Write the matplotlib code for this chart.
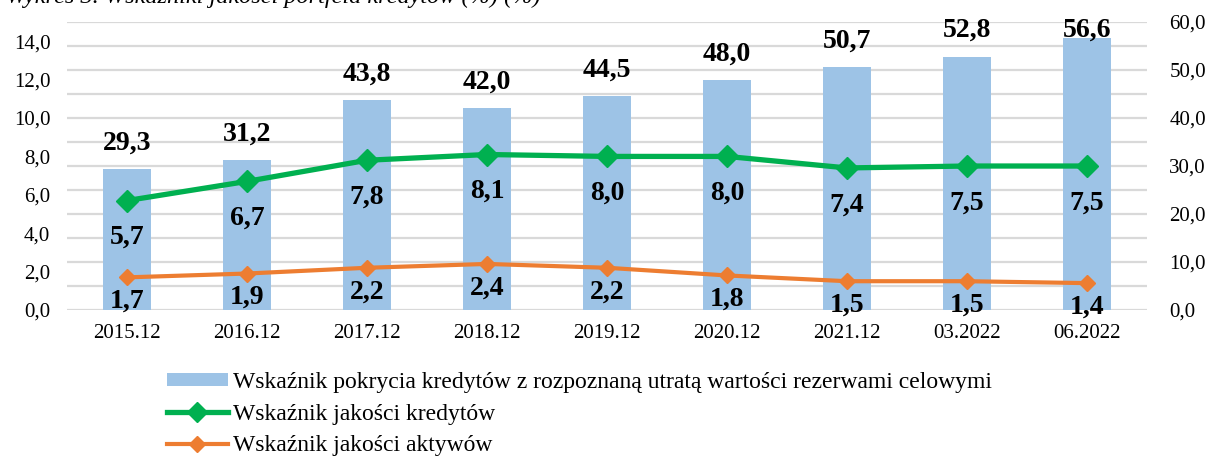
import matplotlib
matplotlib.use('Agg')
from matplotlib import pyplot as plt
from matplotlib.lines import Line2D
from matplotlib.patches import Patch
import numpy as np

plt.rcParams['font.family'] = ['Liberation Serif', 'DejaVu Serif']

categories = ['2015.12', '2016.12', '2017.12', '2018.12', '2019.12',
              '2020.12', '2021.12', '03.2022', '06.2022']
coverage = [29.3, 31.2, 43.8, 42.0, 44.5, 48.0, 50.7, 52.8, 56.6]
loan_quality = [5.7, 6.7, 7.8, 8.1, 8.0, 8.0, 7.4, 7.5, 7.5]
asset_quality = [1.7, 1.9, 2.2, 2.4, 2.2, 1.8, 1.5, 1.5, 1.4]

names = ['Wskaźnik pokrycia kredytów z rozpoznaną utratą wartości rezerwami celowymi',
         'Wskaźnik jakości kredytów',
         'Wskaźnik jakości aktywów']

blue = '#9DC3E6'
green = '#00B050'
orange = '#ED7D31'


def fmt(v):
    return f'{v:.1f}'.replace('.', ',')


fig = plt.figure(figsize=(12.09, 4.59), dpi=100)
ax = fig.add_axes([0.0554, 0.3246, 0.8933, 0.6274])
x = np.arange(len(categories))

# bars on the right-hand scale
ax.bar(x, coverage, width=0.4, color=blue, zorder=2)
ax.set_ylim(0, 60)
ax.set_xlim(-0.5, len(categories) - 0.5)
ax.set_xticks(x)
ax.set_xticklabels(categories)
ax.tick_params(axis='x', length=0, pad=10, labelsize=15)
ax.set_yticks(np.arange(0, 61, 5), minor=True)
ax.grid(axis='y', which='both', color='#D9D9D9', linewidth=1.6, zorder=0)
ax.set_axisbelow(True)
for s in ax.spines.values():
    s.set_visible(False)

for xi, v in zip(x, coverage):
    ax.text(xi, min(v + 5.4, 58.3), fmt(v), ha='center', va='center',
            fontsize=20, fontweight='bold', zorder=5)

# lines on the left-hand scale
ax2 = ax.twinx()
ax2.set_ylim(0, 15)
for s in ax2.spines.values():
    s.set_visible(False)

ax2.plot(x, loan_quality, color=green, linewidth=3.8, marker='D', markersize=11.5, zorder=4)
ax2.plot(x, asset_quality, color=orange, linewidth=3.0, marker='D', markersize=8.5, zorder=4)

for xi, v in zip(x, loan_quality):
    ax2.annotate(fmt(v), (xi, v), xytext=(0, -37), textcoords='offset pixels',
                 ha='center', va='center', fontsize=20, fontweight='bold')
for xi, v in zip(x, asset_quality):
    ax2.annotate(fmt(v), (xi, v), xytext=(0, -24), textcoords='offset pixels',
                 ha='center', va='center', fontsize=20, fontweight='bold')

# tick sides: twinx moves the first axis to the left, so set them after
ax.yaxis.tick_right()
ax.set_yticks(np.arange(0, 61, 10))
ax.set_yticklabels([fmt(t) for t in np.arange(0, 61, 10)])
ax.tick_params(axis='y', which='both', length=0, pad=16, labelsize=15)
ax2.yaxis.tick_left()
ax2.set_yticks(np.arange(0, 15, 2))
ax2.set_yticklabels([fmt(t) for t in np.arange(0, 15, 2)])
ax2.tick_params(axis='y', length=0, pad=12, labelsize=15)

handles = [Patch(facecolor=blue, edgecolor='none'),
           Line2D([], [], color=green, linewidth=3.8, marker='D', markersize=10),
           Line2D([], [], color=orange, linewidth=3.0, marker='D', markersize=8)]
fig.legend(handles, names, loc='upper left', bbox_to_anchor=(0.13, 0.21),
           frameon=False, fontsize=17, handlelength=2.6, handleheight=0.5,
           handletextpad=0.2, labelspacing=0.45, borderaxespad=0)

fig.text(0.005, 1 - 3 / 459, 'Wykres 3. Wskaźniki jakości portfela kredytów (%) (%)',
         fontsize=17.5, style='italic', va='baseline', ha='left')

fig.savefig('out.png', dpi=100)
